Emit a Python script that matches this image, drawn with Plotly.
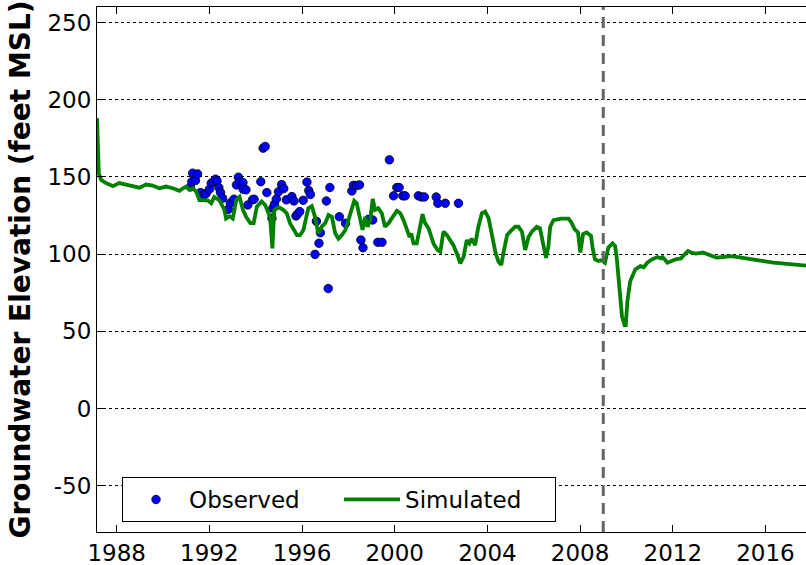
import plotly.graph_objects as go

# ---------------- data (decimal years, feet MSL) ----------------
sim_years = [
    1987.15, 1987.18, 1987.23, 1987.33, 1987.54, 1987.84, 1988.11, 1988.40, 1988.70, 1988.98,
    1989.27, 1989.55, 1989.84, 1990.13, 1990.42, 1990.71, 1990.86, 1991.00, 1991.14, 1991.28,
    1991.43, 1991.57, 1991.72, 1991.94, 1992.08, 1992.21, 1992.43, 1992.65, 1992.72, 1992.87,
    1993.01, 1993.16, 1993.30, 1993.45, 1993.59, 1993.77, 1993.91, 1994.05, 1994.26, 1994.41,
    1994.62, 1994.72, 1994.80, 1994.99, 1995.19, 1995.34, 1995.48, 1995.63, 1995.78, 1995.92,
    1996.06, 1996.27, 1996.42, 1996.56, 1996.70, 1996.85, 1997.00, 1997.14, 1997.29, 1997.43,
    1997.57, 1997.72, 1997.87, 1998.00, 1998.15, 1998.25, 1998.36, 1998.51, 1998.61, 1998.73,
    1998.83, 1998.94, 1999.05, 1999.15, 1999.29, 1999.44, 1999.58, 1999.73, 1999.95, 2000.09,
    2000.24, 2000.38, 2000.53, 2000.64, 2000.71, 2000.81, 2000.95, 2001.10, 2001.20, 2001.31,
    2001.46, 2001.67, 2001.85, 2001.97, 2002.10, 2002.25, 2002.39, 2002.53, 2002.68, 2002.83,
    2002.97, 2003.11, 2003.22, 2003.32, 2003.47, 2003.61, 2003.76, 2003.90, 2004.05, 2004.19,
    2004.34, 2004.48, 2004.60, 2004.70, 2004.85, 2004.98, 2005.20, 2005.34, 2005.49, 2005.63,
    2005.78, 2005.92, 2006.13, 2006.27, 2006.42, 2006.53, 2006.63, 2006.71, 2006.85, 2007.06,
    2007.18, 2007.50, 2007.62, 2007.76, 2007.91, 2008.01, 2008.13, 2008.28, 2008.47, 2008.54,
    2008.64, 2008.79, 2008.94, 2009.07, 2009.22, 2009.40, 2009.51, 2009.58, 2009.66, 2009.73,
    2009.81, 2009.92, 2009.97, 2010.04, 2010.16, 2010.38, 2010.60, 2010.75, 2010.90, 2011.11,
    2011.34, 2011.48, 2011.56, 2011.77, 2011.92, 2012.13, 2012.35, 2012.50, 2012.65, 2012.79,
    2013.00, 2013.30, 2013.59, 2013.88, 2014.17, 2014.46, 2014.75, 2015.18, 2015.63, 2015.92,
    2016.35, 2016.79, 2017.23, 2017.67, 2017.93,
]
sim_values = [
    188, 165, 152, 148, 146, 144, 146, 145, 143.7, 143,
    145, 144.4, 142.6, 143.7, 142.6, 141, 142.6, 143.7, 141.6, 142.6,
    140.5, 135, 135, 134.6, 132.9, 137, 135, 128.6, 123, 124.5,
    123, 135, 137, 128.6, 124, 120, 120, 130.7, 134, 131.8,
    124, 103.7, 128.6, 130.3, 128.6, 126.4, 120, 115.6, 112.3, 112.3,
    115.6, 129.7, 131, 124, 113.4, 117.7, 120, 125.3, 124, 113.4,
    110, 112.3, 115.6, 122, 130.7, 134.4, 132.9, 122, 115.6, 124,
    117.7, 122, 135.7, 128.6, 129.7, 126.4, 117.7, 120, 125.3, 128,
    126.4, 122, 115.6, 111, 113.4, 107, 107, 120, 125.8, 120,
    116.7, 106.9, 102.6, 101.5, 114.5, 112.3, 109, 105.8, 100.4, 94,
    98.2, 109, 106.9, 110, 105.8, 117.7, 126.4, 127.5, 123.2, 113.4,
    101.5, 95, 92.9, 101.5, 112.3, 114.5, 117.7, 117.7, 114.5, 102.6,
    111.2, 114.5, 117.7, 116.7, 106.9, 97.5, 104.7, 117.7, 122, 123,
    123, 123, 120.6, 116.2, 114, 101, 113, 114, 111.9, 104.2,
    96.6, 95.5, 96.1, 94.4, 104.2, 106.9, 105.3, 97.7, 84.5, 69.2,
    59.4, 54, 54, 69.2, 82.3, 90, 92.2, 91.5, 94.4, 96.6,
    98.1, 97.2, 98.1, 94.4, 95.5, 96.6, 97.2, 99.9, 102, 101,
    100.3, 101, 99.4, 97.7, 98.1, 98.7, 98.1, 97.2, 96.6, 95.5,
    94.4, 93.8, 93.8, 93.2, 92.2,
]

obs_years = [
    1991.18, 1991.24, 1991.28, 1991.40, 1991.49, 1991.62, 1991.77, 1991.86, 1992.00, 1992.08,
    1992.17, 1992.27, 1992.33, 1992.41, 1992.48, 1992.57, 1992.82, 1992.90, 1993.06, 1993.17,
    1993.25, 1993.32, 1993.45, 1993.46, 1993.58, 1993.66, 1993.86, 1993.93, 1994.22, 1994.32,
    1994.41, 1994.48, 1994.70, 1994.74, 1994.81, 1994.89, 1994.98, 1995.12, 1995.21, 1995.32,
    1995.56, 1995.65, 1995.74, 1995.80, 1995.90, 1996.05, 1996.21, 1996.29, 1996.36, 1996.62,
    1996.73, 1996.56, 1996.79, 1997.05, 1997.20, 1997.13, 1997.61, 1997.88, 1998.15, 1998.22,
    1998.36, 1998.48, 1998.54, 1998.63, 1998.87, 1999.05, 1999.27, 1999.45, 1999.77, 1999.95,
    2000.09, 2000.19, 2000.35, 2000.45, 2001.02, 2001.15, 2001.28, 2001.79, 2001.86, 2002.18,
    2002.75,
]
obs_values = [
    143.5, 146.9, 152.4, 147.6, 151.9, 139.8, 138.3, 139.2, 142.0, 145.9,
    146.9, 148.5, 147.3, 143.0, 139.8, 136.2, 129.0, 133.1, 135.5, 144.8,
    149.8, 146.9, 146.3, 142.0, 141.6, 131.8, 135.1, 135.5, 146.9, 168.6,
    169.7, 139.8, 123.2, 129.7, 132.3, 135.6, 140.3, 145.0, 142.4, 135.1,
    137.2, 134.4, 124.7, 125.8, 127.5, 134.8, 146.6, 141.1, 138.6, 121.2,
    107.0, 99.8, 113.8, 134.4, 143.1, 77.7, 124.2, 119.9, 140.9, 144.5,
    144.4, 144.8, 109.1, 104.1, 122.5, 122.1, 107.6, 107.6, 161.0, 137.7,
    143.1, 143.1, 137.7, 137.7, 137.7, 137.0, 137.0, 137.0, 132.9, 132.9,
    132.9,
]

calibration_end = 2009.0
x_ticks = [1988, 1992, 1996, 2000, 2004, 2008, 2012, 2016]
x_ticklabels = [str(v) for v in x_ticks]
y_ticks = [-50, 0, 50, 100, 150, 200, 250]
y_ticklabels = ["-50", "0", "50", "100", "150", "200", "250"]
x_range = [1987.15, 2017.75]
y_range = [-80, 260]

FONT = "DejaVu Sans"

fig = go.Figure()
fig.add_trace(go.Scatter(
    x=obs_years, y=obs_values, mode="markers", name="Observed",
    marker=dict(color="#0000ff", size=8.5, line=dict(color="black", width=0.8)),
))
fig.add_trace(go.Scatter(
    x=sim_years, y=sim_values, mode="lines", name="Simulated",
    line=dict(color="#008000", width=3.8),
))

fig.add_shape(type="line", xref="x", yref="paper", x0=calibration_end, x1=calibration_end,
              y0=0, y1=1, line=dict(color="#666666", width=3, dash="11px,7px"))

fig.update_layout(
    width=806, height=565,
    margin=dict(l=97, r=0, t=7, b=33),
    paper_bgcolor="white", plot_bgcolor="white",
    font=dict(family=FONT, size=23, color="black"),
    showlegend=True,
    legend=dict(
        x=0.0353, y=0.019, xanchor="left", yanchor="bottom",
        orientation="h", bgcolor="white", bordercolor="black", borderwidth=1,
        font=dict(family=FONT, size=23, color="black"),
        itemwidth=56, entrywidth=145, entrywidthmode="pixels",
    ),
    xaxis=dict(
        range=x_range, tickvals=x_ticks, ticktext=x_ticklabels,
        showgrid=False, zeroline=False,
        showline=True, linecolor="black", linewidth=1.2, mirror="ticks",
        ticks="inside", ticklen=7, tickcolor="black", tickwidth=1,
        tickfont=dict(family=FONT, size=23),
    ),
    yaxis=dict(
        range=y_range, tickvals=y_ticks, ticktext=y_ticklabels,
        showgrid=True, gridcolor="black", gridwidth=1, griddash="dot",
        zeroline=False,
        showline=True, linecolor="black", linewidth=1.2, mirror="ticks",
        ticks="inside", ticklen=7, tickcolor="black", tickwidth=1,
        tickfont=dict(family=FONT, size=23),
        title=dict(text="<b>Groundwater Elevation (feet MSL)</b>",
                   font=dict(family=FONT, size=28), standoff=8),
    ),
)

fig.write_html("out.html")
